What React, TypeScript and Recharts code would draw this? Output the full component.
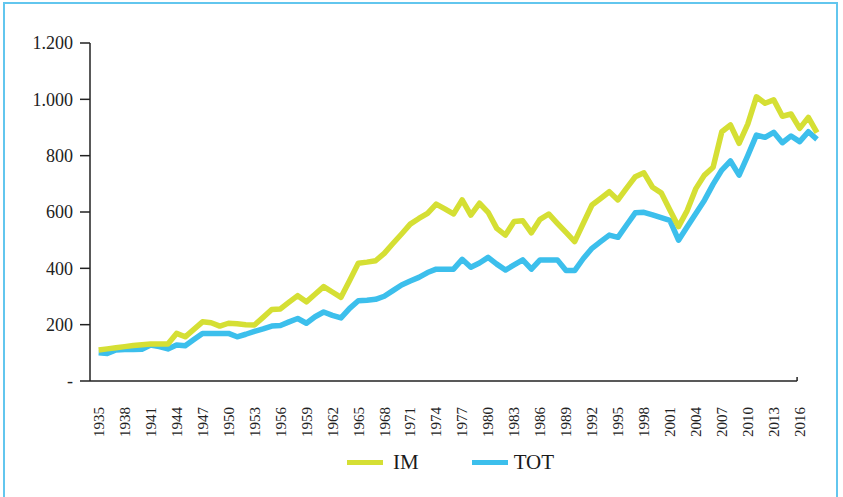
import { LineChart, Line, XAxis, YAxis, Legend, ReferenceLine } from 'recharts';

const FONT = '"Liberation Serif", "DejaVu Serif", serif';
const IM_COLOR = '#d5df34';
const TOT_COLOR = '#3cbfec';
const AXIS_COLOR = '#222';

const YEARS = Array.from({ length: 84 }, (_, i) => 1935 + i);

const IM = [
  110, 114, 118, 122, 126, 129, 131, 131, 131, 169,
  157, 183, 210, 207, 195, 205, 203, 200, 199, 226,
  254, 256, 280, 303, 281, 308, 335, 316, 297, 357,
  418, 422, 427, 453, 488, 522, 557, 577, 595, 628,
  611, 593, 643, 589, 631, 599, 542, 518, 566, 569,
  526, 574, 593, 560, 528, 495, 560, 625, 648, 672,
  643, 685, 725, 739, 688, 668, 607, 548, 605, 683,
  731, 759, 885, 909, 844, 912, 1009, 986, 998, 940,
  948, 897, 936, 882,
];

const TOT = [
  100, 98, 110, 112, 112, 113, 128, 122, 114, 128,
  125, 147, 169, 169, 169, 169, 157, 166, 176, 185,
  195, 197, 210, 222, 205, 228, 245, 233, 224, 258,
  285, 287, 290, 301, 321, 341, 355, 368, 385, 397,
  397, 397, 432, 404, 419, 439, 415, 394, 412, 430,
  397, 430, 430, 430, 392, 392, 435, 471, 495, 518,
  510, 554, 597, 599, 590, 580, 570, 500, 548, 595,
  642, 699, 749, 781, 731, 800, 873, 865, 883, 846,
  870, 850, 885, 858,
];

const X_TICKS = [
  1935, 1938, 1941, 1944, 1947, 1950, 1953, 1956, 1959, 1962, 1965, 1968,
  1971, 1974, 1977, 1980, 1983, 1986, 1989, 1992, 1995, 1998, 2001, 2004,
  2007, 2010, 2013, 2016,
];
const Y_TICKS = [0, 200, 400, 600, 800, 1000, 1200];

// the category axis in the original stops just short of the last label
const X_START = 1934;
const X_AXIS_END = 2015.7;

const SERIES = [
  { key: 'IM', name: 'IM', color: IM_COLOR },
  { key: 'TOT', name: 'TOT', color: TOT_COLOR },
];

const data = YEARS.map((year, i) => ({ year, IM: IM[i], TOT: TOT[i] }));

const formatY = (v: number) => (v === 0 ? '-' : v.toLocaleString('de-DE'));

function YearTick(props: any) {
  const { x, y, payload } = props;
  return (
    <text
      x={x}
      y={y + 18}
      dy="0.35em"
      transform={`rotate(-90, ${x}, ${y + 18})`}
      textAnchor="end"
      fontSize={15}
      fontFamily={FONT}
      fill={AXIS_COLOR}
    >
      {payload.value}
    </text>
  );
}

function renderLegend() {
  return (
    <div style={{ display: 'flex', alignItems: 'center', fontFamily: FONT, fontSize: 21, color: '#1a1a1a' }}>
      {SERIES.map((s, i) => (
        <div key={s.key} style={{ display: 'flex', alignItems: 'center', marginRight: i === 0 ? 53 : 0 }}>
          <span style={{ display: 'inline-block', width: 36, height: 5, background: s.color, marginRight: i === 0 ? 10 : 6 }} />
          <span>{s.name}</span>
        </div>
      ))}
    </div>
  );
}

export default function App() {
  return (
    <div style={{ position: 'absolute', left: 0, top: 0, width: 843, height: 497, background: '#fff', overflow: 'hidden' }}>
      <div
        style={{
          position: 'absolute', left: 3, top: 2, width: 835, height: 495,
          boxSizing: 'border-box', border: '2px solid #62c6ee', borderBottom: 'none',
        }}
      />
      <LineChart
        width={843}
        height={497}
        data={data}
        margin={{ top: 43, right: 26, left: 0, bottom: 56 }}
        style={{ position: 'absolute', left: 0, top: 0 }}
      >
        <XAxis
          dataKey="year"
          type="number"
          domain={[X_START, 2018]}
          ticks={X_TICKS}
          interval={0}
          tickLine={false}
          axisLine={false}
          tick={<YearTick />}
          height={60}
        />
        <YAxis
          domain={[0, 1200]}
          ticks={Y_TICKS}
          width={90}
          tickSize={10}
          tickMargin={7}
          tickFormatter={formatY}
          axisLine={{ stroke: AXIS_COLOR, strokeWidth: 1.5 }}
          tickLine={{ stroke: AXIS_COLOR, strokeWidth: 1.5 }}
          tick={{ fontSize: 18, fontFamily: FONT, fill: AXIS_COLOR }}
        />
        <ReferenceLine
          segment={[{ x: X_START, y: 0 }, { x: X_AXIS_END, y: 0 }]}
          stroke={AXIS_COLOR}
          strokeWidth={1.5}
          ifOverflow="visible"
        />
        <ReferenceLine
          segment={[{ x: X_AXIS_END, y: 0 }, { x: X_AXIS_END, y: 14 }]}
          stroke={AXIS_COLOR}
          strokeWidth={1.5}
          ifOverflow="visible"
        />
        <Legend
          layout="horizontal"
          verticalAlign="middle"
          align="center"
          content={renderLegend}
          wrapperStyle={{ left: 347, top: 450, width: 300 }}
        />
        <Line
          dataKey="TOT"
          name="TOT"
          stroke={TOT_COLOR}
          strokeWidth={5.5}
          dot={false}
          strokeLinejoin="round"
          isAnimationActive={false}
        />
        <Line
          dataKey="IM"
          name="IM"
          stroke={IM_COLOR}
          strokeWidth={5.5}
          dot={false}
          strokeLinejoin="round"
          isAnimationActive={false}
        />
      </LineChart>
    </div>
  );
}
